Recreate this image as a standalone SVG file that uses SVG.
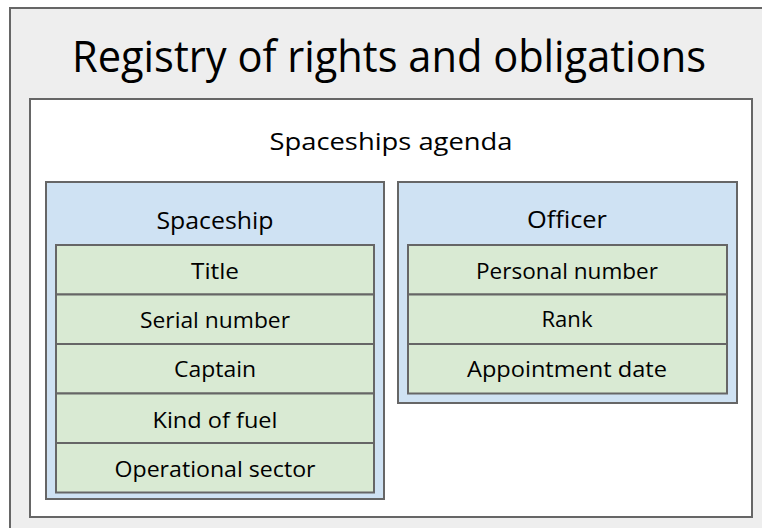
<svg xmlns="http://www.w3.org/2000/svg" width="762" height="528" viewBox="0 0 762 528">
<style>
.box{stroke:#666666;stroke-width:2}
.outer{fill:#eeeeee}
.inner{fill:#ffffff}
.ent{fill:#cfe2f3}
.row{fill:#d9ead3}
text{font-family:"Open Sans","Liberation Sans",sans-serif;fill:#000000;text-anchor:middle}
.t1{font-size:43px}
.t2{font-size:23px}
.t3{font-size:21px}
</style>
<g id="registry">
<rect class="box outer" x="10" y="8" width="754" height="522"/>
<text class="t1" x="389" y="72" textLength="634" lengthAdjust="spacingAndGlyphs">Registry of rights and obligations</text>
</g>
<g id="agenda">
<rect class="box inner" x="30" y="99" width="722" height="418"/>
<text class="t2" x="391" y="150" textLength="243" lengthAdjust="spacingAndGlyphs">Spaceships agenda</text>
</g>
<g id="spaceship">
<rect class="box ent" x="46" y="182" width="338" height="317"/>
<text class="t2" x="215" y="229" textLength="117" lengthAdjust="spacingAndGlyphs">Spaceship</text>
</g>
<g id="spaceship-title">
<rect class="box row" x="56" y="245" width="318" height="49.5"/>
<text class="t3" x="215" y="279" textLength="48" lengthAdjust="spacingAndGlyphs">Title</text>
</g>
<g id="spaceship-serial">
<rect class="box row" x="56" y="294.5" width="318" height="49.5"/>
<text class="t3" x="215" y="328" textLength="150" lengthAdjust="spacingAndGlyphs">Serial number</text>
</g>
<g id="spaceship-captain">
<rect class="box row" x="56" y="344" width="318" height="49.5"/>
<text class="t3" x="215" y="377" textLength="82" lengthAdjust="spacingAndGlyphs">Captain</text>
</g>
<g id="spaceship-fuel">
<rect class="box row" x="56" y="393.5" width="318" height="49.5"/>
<text class="t3" x="215" y="428" textLength="125" lengthAdjust="spacingAndGlyphs">Kind of fuel</text>
</g>
<g id="spaceship-sector">
<rect class="box row" x="56" y="443" width="318" height="49.5"/>
<text class="t3" x="215" y="477" textLength="201" lengthAdjust="spacingAndGlyphs">Operational sector</text>
</g>
<g id="officer">
<rect class="box ent" x="398" y="182" width="339" height="221"/>
<text class="t2" x="567" y="228" textLength="80" lengthAdjust="spacingAndGlyphs">Officer</text>
</g>
<g id="officer-number">
<rect class="box row" x="408" y="245" width="319" height="49.5"/>
<text class="t3" x="567" y="279" textLength="182" lengthAdjust="spacingAndGlyphs">Personal number</text>
</g>
<g id="officer-rank">
<rect class="box row" x="408" y="294.5" width="319" height="49.5"/>
<text class="t3" x="567" y="327" textLength="51" lengthAdjust="spacingAndGlyphs">Rank</text>
</g>
<g id="officer-date">
<rect class="box row" x="408" y="344" width="319" height="49.5"/>
<text class="t3" x="567" y="377" textLength="200" lengthAdjust="spacingAndGlyphs">Appointment date</text>
</g>
<g id="connectors"></g>
</svg>
